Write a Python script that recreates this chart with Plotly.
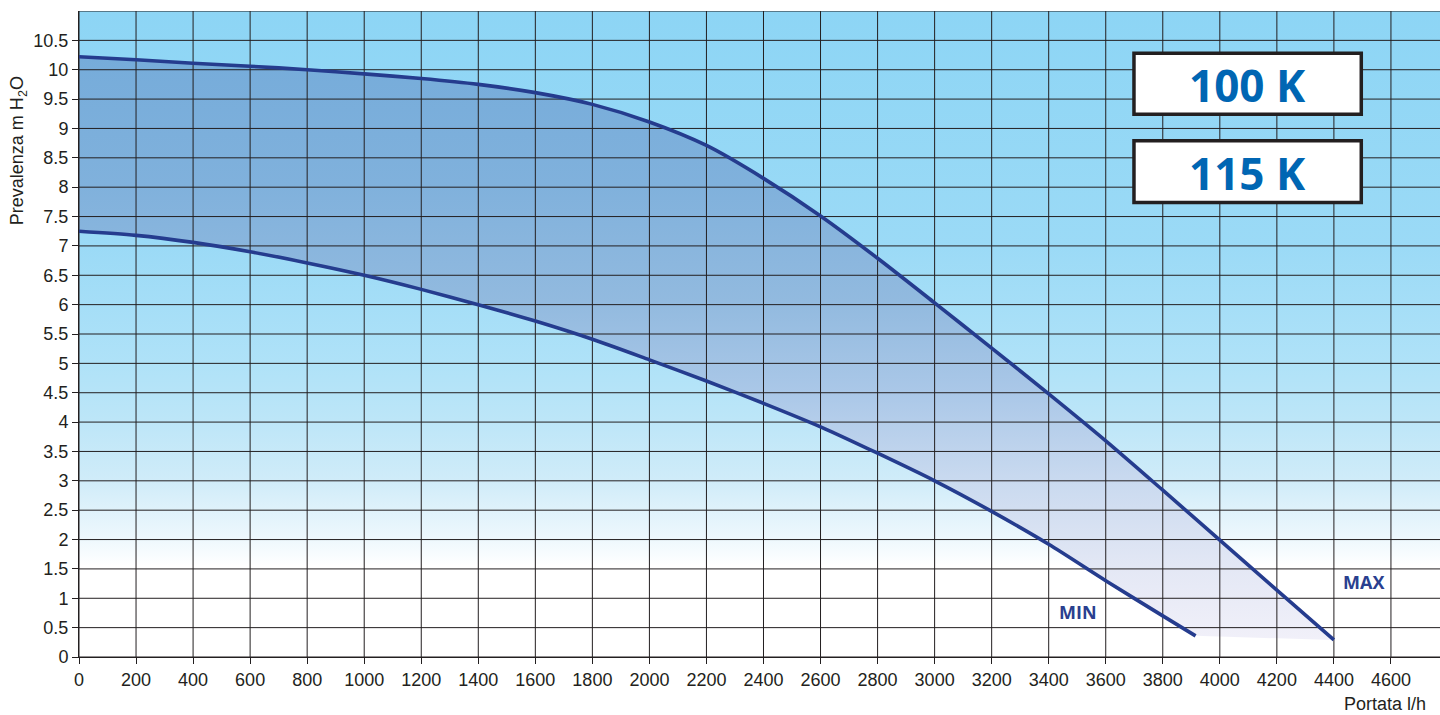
import plotly.graph_objects as go

# ---- data ----
flow_ticks = list(range(0, 4601, 200))
head_ticks = [i * 0.5 for i in range(0, 22)]  # 0 .. 10.5 (labelled)
top_head = 11.0

max_flow = [0, 200, 400, 600, 800, 1000, 1200, 1400, 1600, 1800, 2000, 2200,
            2400, 2600, 2800, 3000, 3200, 3400, 3600, 3800, 4000, 4200, 4400]
max_head = [10.22, 10.17, 10.11, 10.06, 10.0, 9.93, 9.85, 9.75, 9.61, 9.41, 9.11, 8.71,
            8.15, 7.51, 6.79, 6.03, 5.26, 4.48, 3.68, 2.84, 1.99, 1.14, 0.29]

min_flow = [0, 200, 400, 600, 800, 1000, 1200, 1400, 1600, 1800, 2000, 2200,
            2400, 2600, 2800, 3000, 3200, 3400, 3600, 3800, 3915]
min_head = [7.25, 7.18, 7.06, 6.9, 6.71, 6.5, 6.26, 6.0, 5.72, 5.41, 5.06, 4.7,
            4.32, 3.92, 3.47, 3.0, 2.48, 1.92, 1.3, 0.7, 0.36]

model_labels = ["100 K", "115 K"]
curve_labels = ["MAX", "MIN"]

X_MAX = 4772
Y_MAX = 11

GRID = "#231f20"
CURVE = "#253c8e"
SMOOTH = 0.8

fig = go.Figure()

# background gradient (light blue fading to white)
fig.add_trace(go.Scatter(
    x=[0, X_MAX, X_MAX, 0, 0], y=[0, 0, Y_MAX, Y_MAX, 0],
    mode="none", fill="toself", hoverinfo="skip", showlegend=False,
    fillgradient=dict(type="vertical", start=0, stop=Y_MAX, colorscale=[
        [0.0, "#ffffff"], [1.55 / 11, "#ffffff"], [2.0 / 11, "#eef8fd"],
        [3.0 / 11, "#d0ecf9"], [4.0 / 11, "#bde6f8"], [5.0 / 11, "#afe2f8"],
        [7.0 / 11, "#9bdaf6"], [1.0, "#8dd5f5"]]),
))

# operating band between MIN and MAX (follows the spline curves)
fig.add_trace(go.Scatter(
    x=min_flow, y=min_head, mode="lines", hoverinfo="skip", showlegend=False,
    line=dict(width=0, shape="spline", smoothing=SMOOTH, color="rgba(0,0,0,0)"),
))
fig.add_trace(go.Scatter(
    x=max_flow, y=max_head, mode="lines", fill="tonexty", hoverinfo="skip",
    showlegend=False,
    line=dict(width=0, shape="spline", smoothing=SMOOTH, color="rgba(0,0,0,0)"),
    fillgradient=dict(type="vertical", start=0.3, stop=10.2, colorscale=[
        [0.0, "#f1f0f9"], [0.12, "#e4e8f5"], [0.28, "#c8d9ef"],
        [0.42, "#abc8e8"], [0.58, "#92badf"], [0.78, "#80b1dc"],
        [1.0, "#76acda"]]),
))

# grid lines (drawn above the band, below the curves)
gx, gy = [], []
for v in flow_ticks:
    gx += [v, v, None]
    gy += [0, Y_MAX, None]
for v in head_ticks + [top_head]:
    gx += [0, X_MAX, None]
    gy += [v, v, None]
fig.add_trace(go.Scatter(x=gx, y=gy, mode="lines", hoverinfo="skip",
                         showlegend=False,
                         line=dict(color=GRID, width=1)))

# curves
fig.add_trace(go.Scatter(x=max_flow, y=max_head, mode="lines", name="MAX",
                         showlegend=False,
                         line=dict(color=CURVE, width=3.6, shape="spline",
                                   smoothing=SMOOTH)))
fig.add_trace(go.Scatter(x=min_flow, y=min_head, mode="lines", name="MIN",
                         showlegend=False,
                         line=dict(color=CURVE, width=3.6, shape="spline",
                                   smoothing=SMOOTH)))

annotations = [
    dict(x=4504, y=1.28, text="<b>%s</b>" % curve_labels[0], showarrow=False,
         font=dict(family="Open Sans", size=18, color="#2a3f8f")),
    dict(x=3504, y=0.77, text="<b>%s</b>" % curve_labels[1], showarrow=False,
         font=dict(family="Open Sans", size=18, color="#2a3f8f")),
    dict(xref="paper", yref="paper", x=1.0, y=0, xanchor="right", yanchor="middle",
         xshift=-12, yshift=-47, text="Portata l/h", showarrow=False,
         font=dict(family="Liberation Sans", size=18, color=GRID)),
    dict(xref="paper", yref="paper", x=0, y=0.783, xanchor="center", yanchor="middle",
         xshift=-61, text="Prevalenza m H<sub>2</sub>O", textangle=-90, showarrow=False,
         font=dict(family="Liberation Sans", size=18, color=GRID)),
]

shapes = []
boxes = [(10.28, 9.24), (8.79, 7.74)]
for (top, bot), lab in zip(boxes, model_labels):
    shapes.append(dict(type="rect", xref="x", yref="y", x0=3699, x1=4496,
                       y0=bot, y1=top, layer="above",
                       line=dict(color=GRID, width=3.5), fillcolor="white"))
    annotations.append(dict(x=4097, y=(top + bot) / 2, text="<b>%s</b>" % lab,
                            showarrow=False, yshift=-1,
                            font=dict(family="Open Sans", size=44, color="#0066b3")))

fig.update_layout(
    width=1440, height=715,
    margin=dict(l=79, r=0, t=11, b=58),
    paper_bgcolor="white", plot_bgcolor="white",
    shapes=shapes, annotations=annotations,
    font=dict(family="Liberation Sans", size=18, color=GRID),
    xaxis=dict(range=[0, X_MAX], tickvals=flow_ticks, showgrid=False,
               zeroline=False, showline=True, linecolor=GRID, linewidth=1,
               ticks="outside", ticklen=6, tickcolor=GRID, tickwidth=1,
               tickfont=dict(size=18, color=GRID)),
    yaxis=dict(range=[0, Y_MAX], tickvals=head_ticks, showgrid=False,
               zeroline=False, showline=True, linecolor=GRID,
               linewidth=1, ticks="outside", ticklen=6, tickcolor=GRID,
               tickwidth=1, tickfont=dict(size=18, color=GRID)),
    hovermode=False,
)

fig.write_html(
    "out.html",
    config={"displayModeBar": False},
    post_script="document.body.style.margin='0';document.body.style.padding='0';"
                "document.documentElement.style.overflow='hidden';",
)
